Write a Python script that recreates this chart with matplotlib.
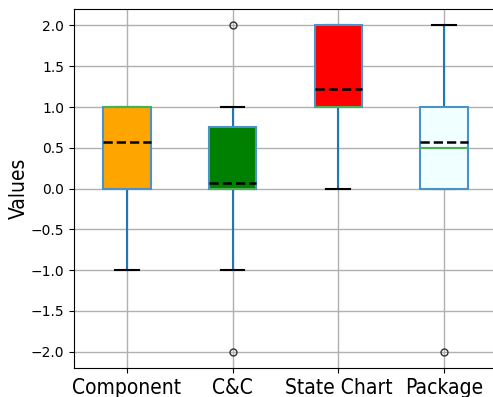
import matplotlib
matplotlib.use("Agg")
import matplotlib.pyplot as plt

# per-diagram summary statistics of the scores
labels = ["Component", "C&C", "State Chart", "Package"]
q1 = [0.0, 0.0, 1.0, 0.0]
med = [1.0, 0.0, 1.0, 0.5]
q3 = [1.0, 0.75, 2.0, 1.0]
whislo = [-1.0, -1.0, 0.0, 0.0]
whishi = [1.0, 1.0, 2.0, 2.0]
means = [0.57, 0.07, 1.22, 0.57]
fliers = [[], [2.0, -2.0], [], [-2.0]]
colors = ["orange", "green", "red", "azure"]

stats = []
for i in range(len(labels)):
    stats.append(dict(label=labels[i], q1=q1[i], med=med[i], q3=q3[i],
                      whislo=whislo[i], whishi=whishi[i], mean=means[i],
                      fliers=fliers[i]))

fig = plt.figure(figsize=(4.93, 3.97), dpi=100)
ax = fig.add_axes([0.150, 0.073, 0.858, 0.904])

bp = ax.bxp(stats, widths=0.45, patch_artist=True, showmeans=True, meanline=True,
            boxprops=dict(color="#3d8ac4", linewidth=1.5, zorder=2),
            whiskerprops=dict(color="#1f77b4", linewidth=1.5, zorder=1.5),
            capprops=dict(color="k", linewidth=1.5, zorder=1.5),
            medianprops=dict(color="#4caf50", linewidth=1.5, zorder=2.5),
            meanprops=dict(color="k", linestyle="--", linewidth=1.8, zorder=2.6),
            flierprops=dict(marker="o", markersize=5, markerfacecolor="none",
                            markeredgecolor="#333333"))
for patch, c in zip(bp["boxes"], colors):
    patch.set_facecolor(c)
    patch.set_edgecolor("#4a93c9")

ax.grid(True, color="#b0b0b0", linewidth=1)
ax.set_axisbelow(True)
ax.set_xlim(0.5, 4.5)
ax.set_ylim(-2.2, 2.2)
ax.set_ylabel("Values", fontsize=15, fontstretch="condensed", labelpad=1)
ax.tick_params(axis="y", labelsize=10)
for t in ax.get_xticklabels():
    t.set_fontsize(15)
    t.set_fontstretch("condensed")

fig.savefig("out.png", dpi=100)
